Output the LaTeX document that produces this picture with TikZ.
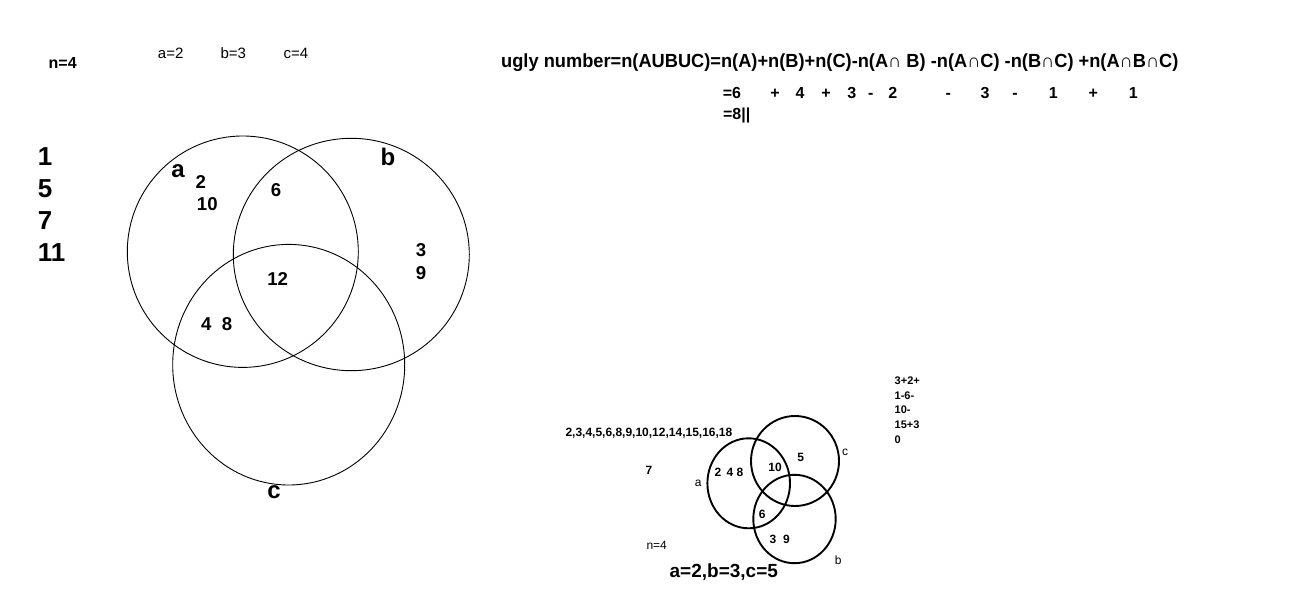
\documentclass[tikz,border=0pt]{standalone}
\usepackage{fontspec}
\setmainfont{Liberation Sans}
\begin{document}
\begin{tikzpicture}[x=1pt,y=-1pt,
  txt/.style={inner sep=0pt,anchor=base},
  fs/.style={font=\fontsize{#1}{#1}\selectfont},
  fb/.style={font=\fontsize{#1}{#1}\selectfont\bfseries},
  bigc/.style={draw=black,line width=0.9pt},
  smallc/.style={draw=black,line width=1.9pt}]
\useasboundingbox[fill=white] (0,0) rectangle (1304,599);

% top left texts
\node[txt,fb=16] (n4) at (62.7,68.5) {n=4};
\node[txt,fs=15] (a2) at (170.7,58.8) {a=2};
\node[txt,fs=15] (b3) at (233.3,58.8) {b=3};
\node[txt,fs=15] (c4) at (296,58.8) {c=4};

% left column
\node[txt,fb=26] (l1) at (45,166) {1};
\node[txt,fb=26] (l5) at (45,197.7) {5};
\node[txt,fb=26] (l7) at (45,229.3) {7};
\node[txt,fb=26] (l11) at (51.7,261) {11};

% big venn
\draw[bigc] (242.8,251.7) ellipse [x radius=115.5, y radius=115.7];
\draw[bigc] (351.3,254.5) ellipse [x radius=118, y radius=116.2];
\draw[bigc] (288.7,364.7) ellipse [x radius=116, y radius=120.3];
\node[txt,fb=24] (la) at (178,177.3) {a};
\node[txt,fb=24] (lb) at (388,166) {b};
\node[txt,fb=24] (lc) at (274,498.3) {c};
\node[txt,fb=18.6] (v2) at (200.7,188.3) {2};
\node[txt,fb=18.6] (v10) at (207.3,210.7) {10};
\node[txt,fb=18.6] (v6) at (276,196.7) {6};
\node[txt,fb=18.6] (v12) at (277.7,285) {12};
\node[txt,fb=18.6] (v3) at (421,256.7) {3};
\node[txt,fb=18.6] (v9) at (421,279) {9};
\node[txt,fb=18.6] (v48) at (216.7,330) {4\ \ 8};

% formula
\node[txt,fb=19,anchor=base west] (eq1) at (501,67.5)
  {\scalebox{0.96}[1]{ugly number=n(AUBUC)=n(A)+n(B)+n(C)-n(A∩ B) -n(A∩C) -n(B∩C) +n(A∩B∩C)}};
\node[txt,fb=16] (e1) at (732,99) {=6};
\node[txt,fb=16] (e2) at (775,99) {+};
\node[txt,fb=16] (e3) at (800,99) {4};
\node[txt,fb=16] (e4) at (826,99) {+};
\node[txt,fb=16] (e5) at (851.7,99) {3};
\node[txt,fb=16] (e6) at (870.7,99) {-};
\node[txt,fb=16] (e7) at (892.7,99) {2};
\node[txt,fb=16] (e8) at (948.3,99) {-};
\node[txt,fb=16] (e9) at (985,99) {3};
\node[txt,fb=16] (e10) at (1015,99) {-};
\node[txt,fb=16] (e11) at (1053.3,99) {1};
\node[txt,fb=16] (e12) at (1093.3,99) {+};
\node[txt,fb=16] (e13) at (1133.3,99) {1};
\node[txt,fb=16] (e14) at (736.7,120) {=8||};

% small venn
\draw[smallc] (748.7,483.3) ellipse [x radius=41.3, y radius=45];
\draw[smallc] (795,461) ellipse [x radius=44, y radius=45];
\draw[smallc] (794.5,519) ellipse [x radius=41.2, y radius=44.2];
\node[txt,fs=12] (sa) at (698.3,486) {a};
\node[txt,fs=12] (sc) at (845,455) {c};
\node[txt,fs=12] (sb) at (838.3,564) {b};
\node[txt,fb=12] (s248) at (729,476.7) {2 \,4 8};
\node[txt,fb=12] (s10) at (775,471.7) {10};
\node[txt,fb=12] (s5) at (800.7,461.7) {5};
\node[txt,fb=12] (s6) at (762.3,518.3) {6};
\node[txt,fb=12] (s39) at (779.7,543.3) {3\ \ 9};
\node[txt,fb=12] (s7) at (649,474) {7};
\node[txt,fs=12] (sn4) at (656.7,549.3) {n=4};
\node[txt,fb=19] (sabc) at (723.8,577.7) {a=2,b=3,c=5};
\node[txt,fb=12] (slist) at (648.9,436) {2,3,4,5,6,8,9,10,12,14,15,16,18};
\node[inner sep=0pt,anchor=north west,align=left,font=\fontsize{11}{14.7}\selectfont\bfseries] (calc) at (894.5,376.7)
  {3+2+\\1-6-\\10-\\15+3\\0};
\end{tikzpicture}
\end{document}
